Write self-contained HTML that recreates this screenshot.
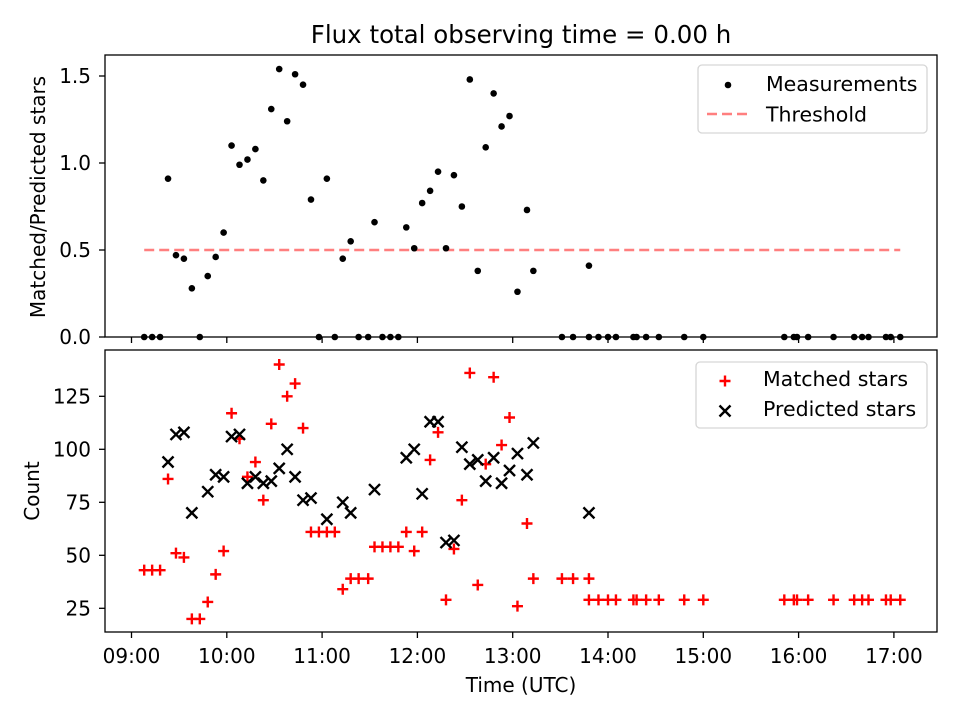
<!DOCTYPE html>
<html><head><meta charset="utf-8"><style>
body{margin:0;background:#fff}
svg{font-family:"DejaVu Sans","Liberation Sans",sans-serif}
</style></head><body>
<svg id="chart" width="960" height="720" xmlns="http://www.w3.org/2000/svg">
<rect width="960" height="720" fill="#fff"/>
<text x="521" y="43" font-size="24.5" text-anchor="middle">Flux total observing time = 0.00 h</text>
<g id="topPanel"></g>
<g id="botPanel"></g>
</svg>
<script>
// minutes after 09:00
const times = [8,13,18,23,28,33,38,43,48,53,58,63,68,73,78,83,88,93,98,103,108,113,118,123,128,133,138,143,149,153,158,163,168,173,178,183,188,193,198,203,208,213,218,223,228,233,238,243,249,253,
271,278,288,288,294,300,305,316,318,324,332,348,360,411,417,419,426,442,455,460,464,475,478,484];
const ratio = [0,0,0,0.91,0.47,0.45,0.28,0,0.35,0.46,0.60,1.10,0.99,1.02,1.08,0.90,1.31,1.54,1.24,1.51,1.45,0.79,0,0.91,0,0.45,0.55,0,0,0.66,0,0,0,0.63,0.51,0.77,0.84,0.95,0.51,0.93,0.75,1.48,0.38,1.09,1.40,1.21,1.27,0.26,0.73,0.38,
0,0,0,0.41,0,0,0,0,0,0,0,0,0,0,0,0,0,0,0,0,0,0,0,0];
const matched = [43,43,43,86,51,49,20,20,28,41,52,117,105,87,94,76,112,140,125,131,110,61,61,61,61,34,39,39,39,54,54,54,54,61,52,61,95,108,29,53,76,136,36,93,134,102,115,26,65,39,
39,39,39,29,29,29,29,29,29,29,29,29,29,29,29,29,29,29,29,29,29,29,29,29];
const predicted = [null,null,null,94,107,108,70,null,80,88,87,106,107,84,87,84,85,91,100,87,76,77,null,67,null,75,70,null,null,81,null,null,null,96,100,79,113,113,56,57,101,93,95,85,96,84,90,98,88,103,
null,null,null,70,null,null,null,null,null,null,null,null,null,null,null,null,null,null,null,null,null,null,null,null];
const threshold = 0.5;
const xTickLabels = ["09:00","10:00","11:00","12:00","13:00","14:00","15:00","16:00","17:00"];
const topTicks = ["0.0","0.5","1.0","1.5"];
const botTicks = [25,50,75,100,125];

const NS="http://www.w3.org/2000/svg";
const L=105,R=937,FS=20;
const xs = m => 131.5 + m/60*95.3;
const yTop = v => 337 - v*174;
const yBot = v => 608.3 - (v-25)*2.12;
function el(tag,attrs,parent,txt){const e=document.createElementNS(NS,tag);for(const k in attrs)e.setAttribute(k,attrs[k]);if(txt!==undefined)e.textContent=txt;parent.appendChild(e);return e;}
const topG=document.getElementById('topPanel'), botG=document.getElementById('botPanel');

function frame(g,y0,y1,showLabels){
  xTickLabels.forEach((lab,i)=>{
    const x=xs(i*60);
    el('line',{x1:x,x2:x,y1:y1,y2:y1+6,stroke:'#000','stroke-width':1.3},g);
    if(showLabels){const t=el('text',{x:x,y:y1+31,'font-size':FS,'text-anchor':'middle'},g,lab);
      
      }
  });
}
// top panel
frame(topG,55,337,false);
topTicks.forEach(s=>{const v=parseFloat(s),y=yTop(v);
  el('line',{x1:L-6,x2:L,y1:y,y2:y,stroke:'#000','stroke-width':1.3},topG);
  const t=el('text',{x:L-14,y:y+7,'font-size':FS,'text-anchor':'end'},topG,s);
  
  
});
const tl=el('line',{x1:xs(times[0]),x2:xs(times[times.length-1]),y1:yTop(threshold),y2:yTop(threshold),stroke:'#ff7f7f','stroke-width':2.6,'stroke-dasharray':'10,5'},topG);


times.forEach((m,i)=>{const c=el('circle',{cx:xs(m),cy:yTop(ratio[i]),r:3.3,fill:'#000'},topG);
  
  });
el('rect',{x:L,y:55,width:R-L,height:282,fill:'none',stroke:'#000','stroke-width':1.3},topG);
const yl=el('text',{transform:'translate(45,197) rotate(-90)','font-size':FS,'text-anchor':'middle'},topG,'Matched/Predicted stars');


// top legend
const lg=el('g',{},topG);


el('rect',{x:698,y:65,width:229,height:68,rx:4,fill:'#fff',stroke:'#d6d6d6','stroke-width':1.3},lg);
el('circle',{cx:728,cy:85,r:3.3,fill:'#000'},lg);
el('text',{x:766,y:91,'font-size':20.5},lg,'Measurements');
el('line',{x1:707,x2:750,y1:114,y2:114,stroke:'#ff7f7f','stroke-width':2.6,'stroke-dasharray':'10,5'},lg);
el('text',{x:766,y:121.5,'font-size':20.5},lg,'Threshold');

// bottom panel
frame(botG,350,632,true);
botTicks.forEach(v=>{const y=yBot(v);
  el('line',{x1:L-6,x2:L,y1:y,y2:y,stroke:'#000','stroke-width':1.3},botG);
  const t=el('text',{x:L-14,y:y+7,'font-size':FS,'text-anchor':'end'},botG,String(v));
  
  
});
function plus(g,x,y,name){const p=el('path',{d:`M${x-5.5},${y}H${x+5.5}M${x},${y-5.5}V${y+5.5}`,stroke:'#f00','stroke-width':2.4},g);
  
  }
function cross(g,x,y,name){const p=el('path',{d:`M${x-5.5},${y-5.5}L${x+5.5},${y+5.5}M${x-5.5},${y+5.5}L${x+5.5},${y-5.5}`,stroke:'#000','stroke-width':2.4},g);
  
  }
times.forEach((m,i)=>{plus(botG,xs(m),yBot(matched[i]),'matched-star-point');});
times.forEach((m,i)=>{if(predicted[i]!==null)cross(botG,xs(m),yBot(predicted[i]),'predicted-star-point');});
el('rect',{x:L,y:350,width:R-L,height:282,fill:'none',stroke:'#000','stroke-width':1.3},botG);
const yl2=el('text',{transform:'translate(39,491) rotate(-90)','font-size':FS,'text-anchor':'middle'},botG,'Count');


const xl=el('text',{x:521,y:692,'font-size':FS,'text-anchor':'middle'},botG,'Time (UTC)');


const lg2=el('g',{},botG);


el('rect',{x:696,y:362,width:231,height:66,rx:4,fill:'#fff',stroke:'#d6d6d6','stroke-width':1.3},lg2);
plus(lg2,725,381,'legend-matched-marker');
cross(lg2,725,411,'legend-predicted-marker');
el('text',{x:763,y:386,'font-size':20.5},lg2,'Matched stars');
el('text',{x:763,y:416,'font-size':20.5},lg2,'Predicted stars');
</script>
</body></html>
